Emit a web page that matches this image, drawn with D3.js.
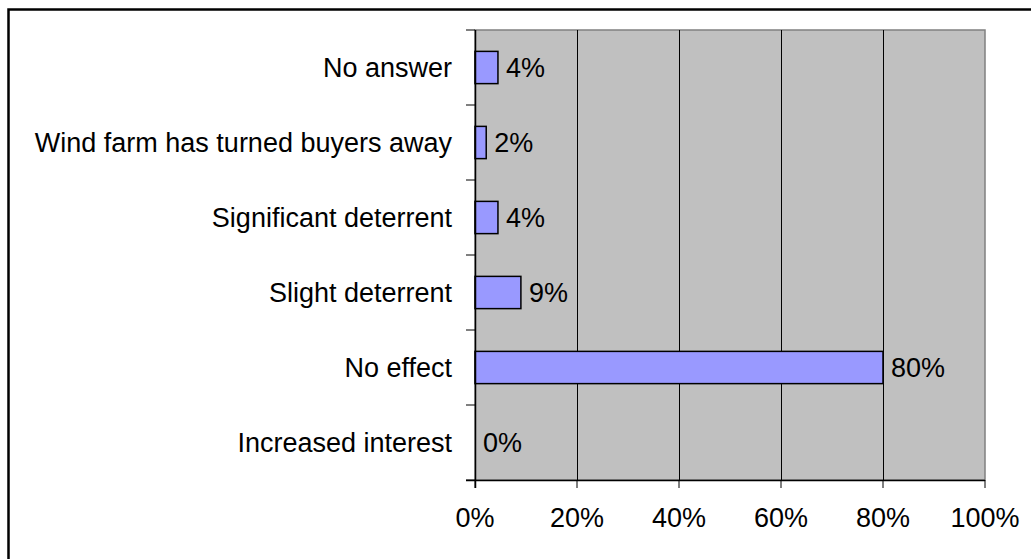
<!DOCTYPE html>
<html>
<head>
<meta charset="utf-8">
<script src="https://cdn.jsdelivr.net/npm/d3@7"></script>
<style>
    body { margin: 0; background: #fff; }
    svg text { font-family: "Liberation Sans", Arial, sans-serif; fill: #000; }
</style>
</head>
<body>
<script>
    // ! DATA ! //
    const categories = ["No answer", "Wind farm has turned buyers away", "Significant deterrent", "Slight deterrent", "No effect", "Increased interest"];
    const values = [4.5, 2.2, 4.5, 9, 80, 0];
    const valueLabels = ["4%", "2%", "4%", "9%", "80%", "0%"];
    const tickValues = [0, 20, 40, 60, 80, 100];

    // ^ DIMENSIONS ^ //
    const width = 1031;
    const height = 559;
    const plot = { left: 475, right: 985, top: 30, bottom: 480 };
    const fontSize = 27;

    const svg = d3.select("body").append("svg").attr("width", width).attr("height", height);

    // ^ OUTER FRAME ^ //
    svg.append("rect")
        .attr("x", 8.5).attr("y", 9.5)
        .attr("width", width + 20).attr("height", height + 20)
        .attr("fill", "none").attr("stroke", "#000").attr("stroke-width", 2.5);

    const xScale = d3.scaleLinear().domain([0, 100]).range([plot.left, plot.right]);
    const yScale = d3.scaleBand().domain(categories).range([plot.top, plot.bottom]);
    const barH = yScale.bandwidth() * 0.43;

    // ^ PLOT BACKGROUND ^ //
    svg.append("rect")
        .attr("x", plot.left).attr("y", plot.top)
        .attr("width", plot.right - plot.left).attr("height", plot.bottom - plot.top)
        .attr("fill", "#c0c0c0").attr("stroke", "#808080").attr("stroke-width", 1.5);

    // ^ GRIDLINES ^ //
    svg.append("g").selectAll("line")
        .data(tickValues.slice(1, -1))
        .enter().append("line")
        .attr("x1", (d) => Math.round(xScale(d)) + 0.5).attr("x2", (d) => Math.round(xScale(d)) + 0.5)
        .attr("y1", plot.top).attr("y2", plot.bottom)
        .attr("stroke", "#000").attr("stroke-width", 1);

    // ^ BARS ^ //
    svg.append("g").selectAll("rect")
        .data(categories)
        .enter().append("rect")
        .attr("x", xScale(0))
        .attr("y", (d) => yScale(d) + (yScale.bandwidth() - barH) / 2)
        .attr("width", (d, i) => xScale(values[i]) - xScale(0))
        .attr("height", barH)
        .attr("fill", (d, i) => (values[i] > 0 ? "#9999ff" : "none"))
        .attr("stroke", (d, i) => (values[i] > 0 ? "#000" : "none"))
        .attr("stroke-width", 1.5);

    // ^ VALUE LABELS ^ //
    svg.append("g").selectAll("text")
        .data(categories)
        .enter().append("text")
        .attr("x", (d, i) => xScale(values[i]) + 8)
        .attr("y", (d) => yScale(d) + yScale.bandwidth() / 2)
        .attr("dy", "0.35em")
        .attr("font-size", fontSize)
        .text((d, i) => valueLabels[i]);

    // ^ Y AXIS ^ //
    const yAxis = svg.append("g").attr("transform", `translate(${plot.left},0)`);
    yAxis.append("line")
        .attr("x1", 0.5).attr("x2", 0.5).attr("y1", plot.top).attr("y2", plot.bottom + 8)
        .attr("stroke", "#000").attr("stroke-width", 1.5);
    yAxis.selectAll(".tick")
        .data(d3.range(categories.length + 1))
        .enter().append("line")
        .attr("x1", -9).attr("x2", 0)
        .attr("y1", (i) => plot.top + i * yScale.step())
        .attr("y2", (i) => plot.top + i * yScale.step())
        .attr("stroke", "#000").attr("stroke-width", 1);
    yAxis.selectAll("text")
        .data(categories)
        .enter().append("text")
        .attr("x", -23)
        .attr("y", (d) => yScale(d) + yScale.bandwidth() / 2)
        .attr("dy", "0.35em")
        .attr("text-anchor", "end")
        .attr("font-size", fontSize)
        .text((d) => d);

    // ^ X AXIS ^ //
    const xAxis = svg.append("g").attr("transform", `translate(0,${plot.bottom})`);
    xAxis.append("line")
        .attr("x1", plot.left - 9).attr("x2", plot.right).attr("y1", 0.5).attr("y2", 0.5)
        .attr("stroke", "#000").attr("stroke-width", 1.5);
    xAxis.selectAll(".tick")
        .data(tickValues)
        .enter().append("line")
        .attr("x1", (d) => xScale(d)).attr("x2", (d) => xScale(d))
        .attr("y1", 0).attr("y2", 8)
        .attr("stroke", "#000").attr("stroke-width", 1);
    xAxis.selectAll("text")
        .data(tickValues)
        .enter().append("text")
        .attr("x", (d) => xScale(d))
        .attr("y", 47)
        .attr("text-anchor", "middle")
        .attr("font-size", fontSize)
        .text((d) => d + "%");
</script>
</body>
</html>
